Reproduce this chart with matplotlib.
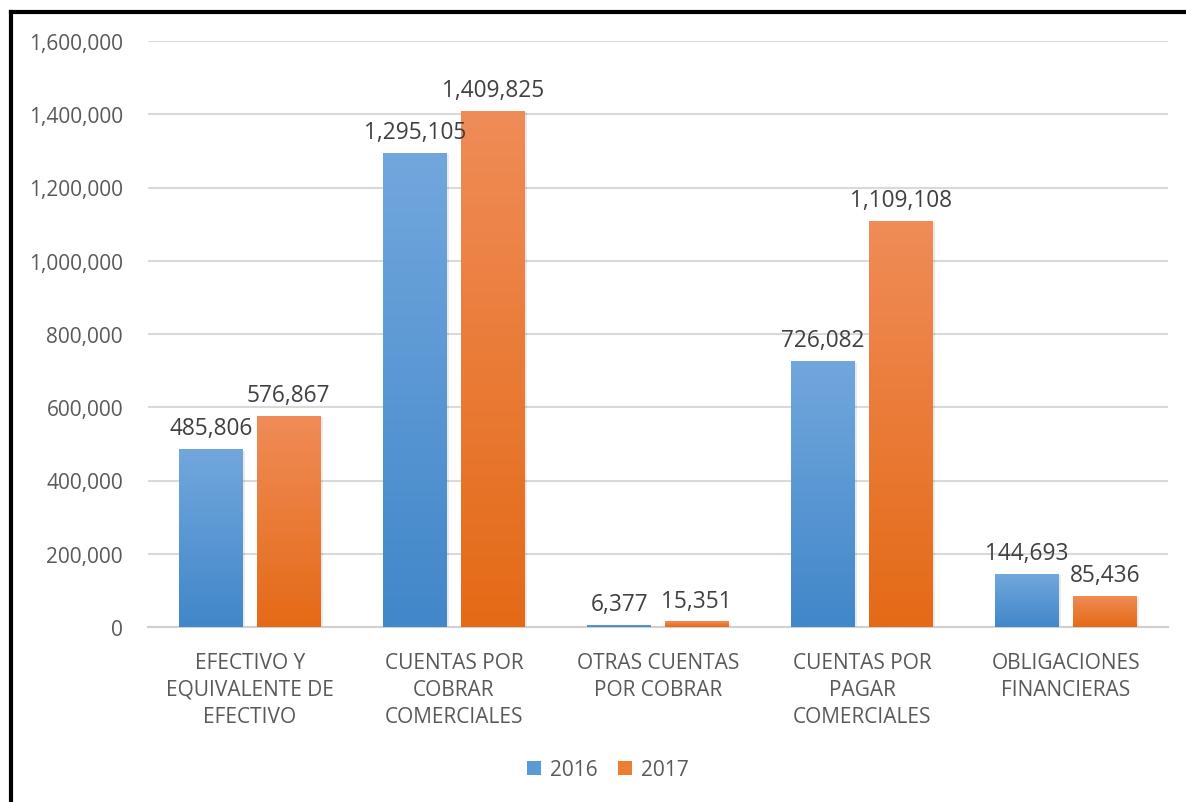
import matplotlib.pyplot as plt
import numpy as np
from matplotlib.colors import LinearSegmentedColormap
from matplotlib.patches import Patch

plt.rcParams['font.family'] = ['Open Sans', 'DejaVu Sans']

categories = ['EFECTIVO Y\nEQUIVALENTE DE\nEFECTIVO', 'CUENTAS POR\nCOBRAR\nCOMERCIALES',
              'OTRAS CUENTAS\nPOR COBRAR', 'CUENTAS POR\nPAGAR\nCOMERCIALES',
              'OBLIGACIONES\nFINANCIERAS']
v2016 = [485806, 1295105, 6377, 726082, 144693]
v2017 = [576867, 1409825, 15351, 1109108, 85436]
yticks = [0, 200000, 400000, 600000, 800000, 1000000, 1200000, 1400000, 1600000]

text_color = '#595959'
blue_top, blue_bot = '#72a7dd', '#4187c9'
orange_top, orange_bot = '#f08c58', '#e46a16'

fig = plt.figure(figsize=(11.86, 8.03), dpi=100)
ax = fig.add_axes([148 / 1186, 175 / 803, 1020 / 1186, 586 / 803])

x = np.arange(len(categories))
w = 0.313
shift = 0.19

# vertical gradient: row 0 is the bottom of the bar
grad = np.linspace(0, 1, 256).reshape(-1, 1)


def gradient_bars(xs, vals, c_top, c_bot):
    cmap = LinearSegmentedColormap.from_list('g', [c_bot, c_top])
    bars = ax.bar(xs, vals, width=w, color='none', zorder=3)
    for b in bars:
        x0, y0 = b.get_x(), b.get_y()
        bw, bh = b.get_width(), b.get_height()
        # soft shadow behind the bar
        ax.bar(x0 + bw / 2 + 0.005, bh, width=bw + 0.012, bottom=-4000,
               color='#000000', alpha=0.08, zorder=2.5, linewidth=0)
        im = ax.imshow(grad, cmap=cmap, aspect='auto',
                       extent=(x0, x0 + bw, y0, y0 + bh), origin='lower', zorder=3)
        im.set_clip_path(b)
    return bars


gradient_bars(x - shift, v2016, blue_top, blue_bot)
gradient_bars(x + shift, v2017, orange_top, orange_bot)

for xs, vals in ((x - shift, v2016), (x + shift, v2017)):
    for xi, v in zip(xs, vals):
        ax.text(xi, v + 24000, f'{v:,}', ha='center', va='bottom',
                fontsize=16.3, color='#404040')

ax.set_xlim(-0.5, len(categories) - 0.5)
ax.set_ylim(0, 1600000)
ax.set_yticks(yticks)
ax.set_yticklabels([f'{t:,}' for t in yticks])
ax.set_xticks(x)
ax.set_xticklabels(categories, linespacing=1.36)
ax.tick_params(axis='both', length=0, labelsize=15, colors=text_color)
ax.tick_params(axis='y', pad=18)
ax.tick_params(axis='x', pad=18)
ax.grid(axis='y', color='#d9d9d9', linewidth=1.5, zorder=0)
ax.set_axisbelow(True)
for s in ('top', 'right', 'left'):
    ax.spines[s].set_visible(False)
ax.spines['bottom'].set_color('#d0d0d0')
ax.spines['bottom'].set_linewidth(1.5)

handles = [Patch(facecolor='#5b9bd5', label='2016'),
           Patch(facecolor='#ed7d31', label='2017')]
fig.legend(handles=handles, loc='center', bbox_to_anchor=(608 / 1186, 1 - 771 / 803),
           ncol=2, frameon=False, fontsize=15, labelcolor=text_color,
           handlelength=0.65, handleheight=0.65, handletextpad=0.45, columnspacing=1.0)

# black frame on the left and top edges
fig.add_artist(plt.Line2D([11 / 1186, 11 / 1186], [0, 1 - 13 / 803], color='black',
                          linewidth=3, transform=fig.transFigure))
fig.add_artist(plt.Line2D([11 / 1186, 1], [1 - 13 / 803, 1 - 13 / 803], color='black',
                          linewidth=3, transform=fig.transFigure))

fig.savefig('out.png', dpi=100)
